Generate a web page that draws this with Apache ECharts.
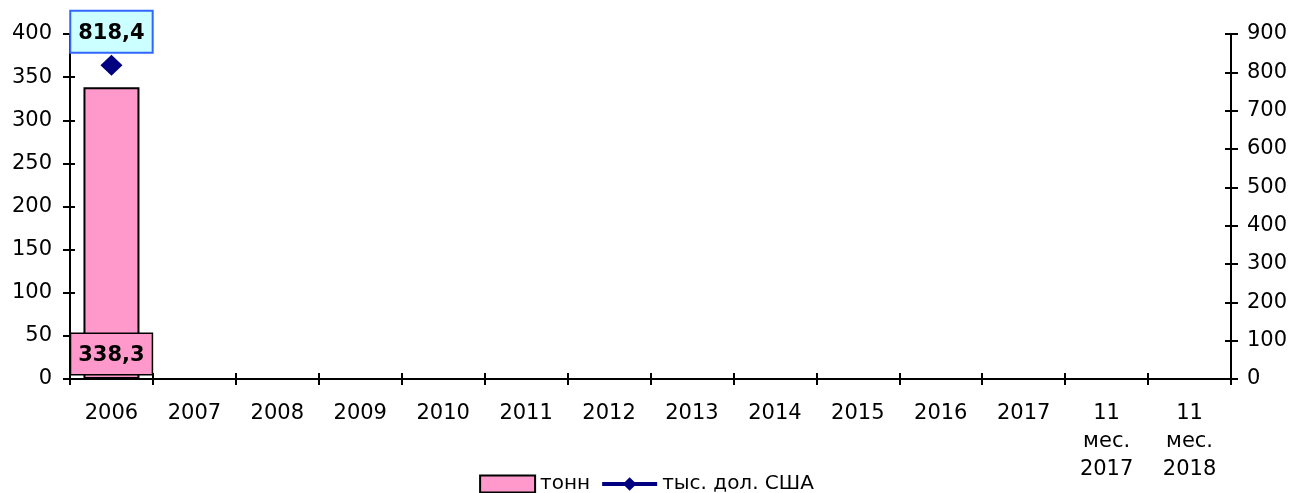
<!DOCTYPE html>
<html>
<head>
<meta charset="utf-8">
<script src="https://cdn.jsdelivr.net/npm/echarts@6/dist/echarts.min.js"></script>
<style>
  html, body { margin: 0; padding: 0; background: #fff; }
  #chart { width: 1293px; height: 493px; }
</style>
</head>
<body>
<div id="chart"></div>
<script>
// categories and values
const categories = ['2006', '2007', '2008', '2009', '2010', '2011', '2012', '2013',
  '2014', '2015', '2016', '2017', '11\nмес.\n2017', '11\nмес.\n2018'];
const tonnes = [338.3, null, null, null, null, null, null, null, null, null, null, null, null, null];
const usdThousands = [818.4, null, null, null, null, null, null, null, null, null, null, null, null, null];

const font = 'DejaVu Sans';
const fmt = v => String(v).replace('.', ',');

const chart = echarts.init(document.getElementById('chart'));

const option = {
  animation: false,
  textStyle: { fontFamily: font, color: '#000' },
  grid: { left: 70, right: 62, top: 34, bottom: 114 },
  legend: {
    top: 469,
    left: 'center',
    itemWidth: 55,
    itemHeight: 17,
    itemGap: 10,
    textStyle: { fontFamily: font, fontSize: 20, color: '#000' },
    data: [
      { name: 'тонн', icon: 'rect', itemStyle: { color: '#FF99CC', borderColor: '#000', borderWidth: 2 } },
      { name: 'тыс. дол. США', lineStyle: { width: 4, color: '#000080' }, itemStyle: { color: '#000080' } }
    ]
  },
  xAxis: [
    {
      type: 'category',
      data: categories,
      axisLine: { lineStyle: { color: '#000', width: 2 } },
      axisTick: { show: true, alignWithLabel: false, length: 6, lineStyle: { color: '#000', width: 2 } },
      axisLabel: { interval: 0, fontFamily: font, fontSize: 21, color: '#000', lineHeight: 28, margin: 21 }
    },
    {
      type: 'category',
      data: categories,
      position: 'bottom',
      axisLine: { show: false },
      axisTick: { show: true, inside: true, length: 6, lineStyle: { color: '#000', width: 2 } },
      axisLabel: { show: false }
    }
  ],
  yAxis: [
    {
      type: 'value',
      min: 0, max: 400, interval: 50,
      splitLine: { show: false },
      axisLine: { show: true, lineStyle: { color: '#000', width: 2 } },
      axisTick: { show: true, length: 7, lineStyle: { color: '#000', width: 2 } },
      axisLabel: { fontFamily: font, fontSize: 21, color: '#000', margin: 18 }
    },
    {
      type: 'value',
      min: 0, max: 900, interval: 100,
      position: 'right',
      splitLine: { show: false },
      axisLine: { show: true, lineStyle: { color: '#000', width: 2 } },
      axisTick: { show: true, length: 7, lineStyle: { color: '#000', width: 2 } },
      axisLabel: { fontFamily: font, fontSize: 21, color: '#000', margin: 16 }
    },
    {
      type: 'value',
      min: 0, max: 400, interval: 50,
      position: 'left',
      splitLine: { show: false },
      axisLine: { show: false },
      axisTick: { show: true, inside: true, length: 5, lineStyle: { color: '#000', width: 2 } },
      axisLabel: { show: false }
    },
    {
      type: 'value',
      min: 0, max: 900, interval: 100,
      position: 'right',
      splitLine: { show: false },
      axisLine: { show: false },
      axisTick: { show: true, inside: true, length: 6, lineStyle: { color: '#000', width: 2 } },
      axisLabel: { show: false }
    }
  ],
  series: [
    {
      name: 'тонн',
      type: 'bar',
      data: tonnes,
      barWidth: 56,
      itemStyle: { color: '#FF99CC', borderColor: '#000', borderWidth: 2 },
      label: {
        show: true,
        position: 'insideBottom',
        distance: 5,
        formatter: p => fmt(p.value),
        fontFamily: font,
        fontSize: 21,
        fontWeight: 'bold',
        color: '#000',
        backgroundColor: '#FF99CC',
        borderColor: '#000',
        borderWidth: 1.5,
        padding: [11, 7, 8, 7]
      }
    },
    {
      name: 'тыс. дол. США',
      type: 'line',
      yAxisIndex: 1,
      data: usdThousands,
      symbol: 'diamond',
      symbolSize: [22, 21],
      lineStyle: { color: '#000080', width: 4 },
      itemStyle: { color: '#000080' },
      label: {
        show: true,
        position: 'top',
        distance: 3,
        formatter: p => fmt(p.value),
        fontFamily: font,
        fontSize: 21,
        fontWeight: 'bold',
        color: '#000',
        backgroundColor: '#CCFFFF',
        borderColor: '#3366FF',
        borderWidth: 2,
        padding: [11, 7, 8, 7]
      }
    }
  ]
};

chart.setOption(option);
window.addEventListener('resize', () => chart.resize());
</script>
</body>
</html>
